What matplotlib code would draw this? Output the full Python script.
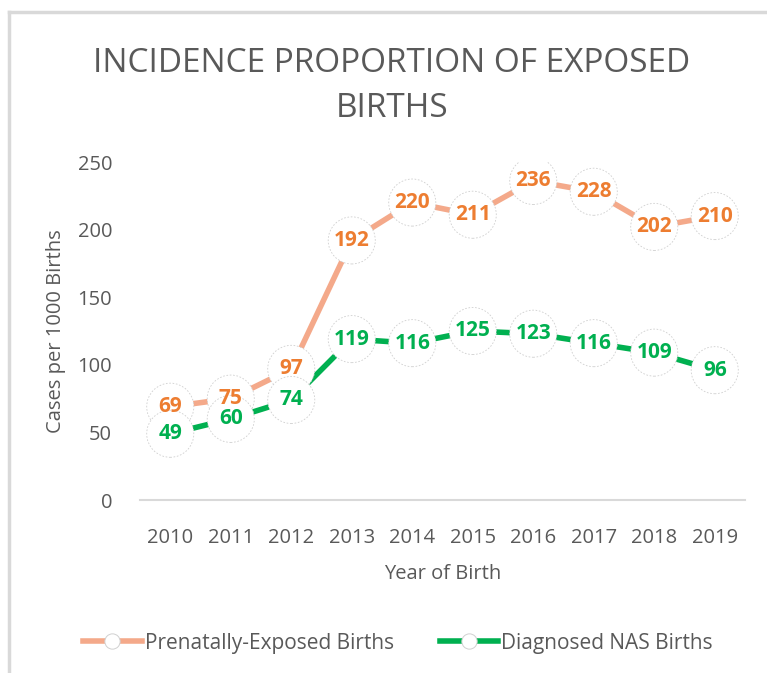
import matplotlib.pyplot as plt
from matplotlib.lines import Line2D

plt.rcParams['font.family'] = ['Open Sans', 'DejaVu Sans']

years = ["2010", "2011", "2012", "2013", "2014", "2015", "2016", "2017", "2018", "2019"]
exposed = [69, 75, 97, 192, 220, 211, 236, 228, 202, 210]
nas = [49, 60, 74, 119, 116, 125, 123, 116, 109, 96]

exp_line = "#F4A98A"
exp_text = "#ED7D31"
nas_col = "#00B050"
txt = "#595959"

fig = plt.figure(figsize=(7.67, 6.73), dpi=100)
ax = fig.add_axes([140 / 767, (673 - 500) / 673, 605 / 767, 338 / 673])

x = list(range(len(years)))
for vals, lc, tc in [(exposed, exp_line, exp_text), (nas, nas_col, nas_col)]:
    ax.plot(x, vals, color=lc, lw=4, zorder=2, solid_capstyle="butt")
    ax.scatter(x, vals, s=1150, facecolor="white", edgecolor="#CFCFCF",
               linewidths=0.6, linestyle=(0, (2, 2)), zorder=3)
    for xi, v in zip(x, vals):
        ax.text(xi, v, str(v), ha="center", va="center", color=tc,
                fontsize=15, fontweight="bold", zorder=4)

ax.set_xlim(-0.5, len(years) - 0.5)
ax.set_ylim(0, 250)
ax.set_yticks([0, 50, 100, 150, 200, 250])
ax.set_xticks(x)
ax.set_xticklabels(years)
ax.tick_params(axis="both", length=0, labelsize=14.5, colors=txt)
ax.tick_params(axis="x", pad=20)
ax.tick_params(axis="y", pad=20)
for s in ["top", "right", "left"]:
    ax.spines[s].set_visible(False)
ax.spines["bottom"].set_color("#D9D9D9")
ax.spines["bottom"].set_linewidth(1.5)

ax.set_xlabel("Year of Birth", fontsize=14.5, color=txt, labelpad=12)
ax.set_ylabel("Cases per 1000 Births", fontsize=14.5, color=txt, labelpad=8)

fig.text(392 / 767, 1 - 86 / 673, "INCIDENCE PROPORTION OF EXPOSED\nBIRTHS",
         ha="center", va="center", fontsize=24, color=txt, linespacing=1.45)

handles = [
    Line2D([], [], color=exp_line, lw=4, marker="o", markersize=11,
           markerfacecolor="white", markeredgecolor="#D0D0D0", markeredgewidth=0.7),
    Line2D([], [], color=nas_col, lw=4, marker="o", markersize=11,
           markerfacecolor="white", markeredgecolor="#D0D0D0", markeredgewidth=0.7),
]
fig.legend(handles, ["Prenatally-Exposed Births", "Diagnosed NAS Births"],
           loc="center", bbox_to_anchor=(398 / 767, 1 - 643 / 673), ncol=2,
           frameon=False, fontsize=15, labelcolor=txt, handlelength=2.8,
           handletextpad=0.15, columnspacing=2.2)

# chart border (top and left visible)
fig.add_artist(Line2D([9 / 767, 9 / 767], [0, 1 - 12 / 673], color="#D9D9D9", lw=2.5))
fig.add_artist(Line2D([9 / 767, 1], [1 - 12 / 673, 1 - 12 / 673], color="#D9D9D9", lw=2.5))

fig.savefig("out.png", dpi=100)
